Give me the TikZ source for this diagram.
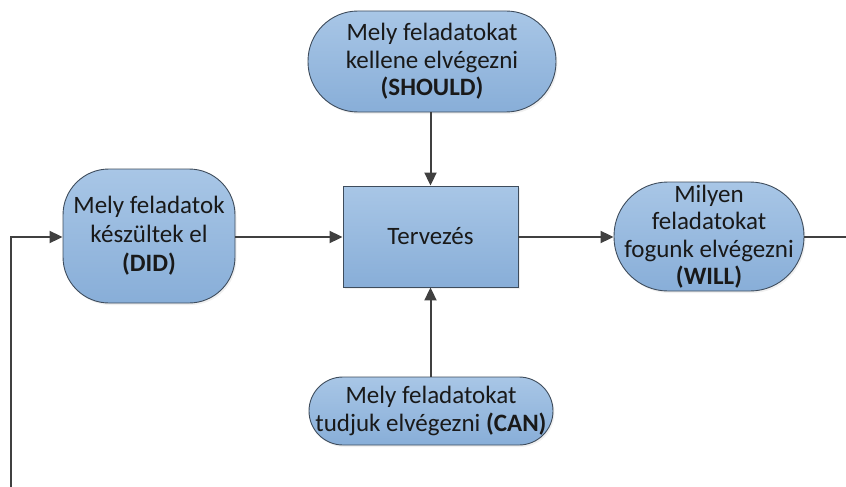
\documentclass[tikz,border=0pt]{standalone}
\usepackage{fontspec}
\setmainfont{Carlito}
\usetikzlibrary{arrows.meta,shadows}
\definecolor{boxtop}{RGB}{168,198,230}
\definecolor{boxbot}{RGB}{136,174,216}
\definecolor{boxline}{RGB}{62,76,92}
\definecolor{arrowcol}{RGB}{64,64,64}
\definecolor{txt}{RGB}{25,25,25}
\tikzset{
  blob/.style={draw=boxline, line width=0.9pt, top color=boxtop, bottom color=boxbot,
    align=center, inner sep=0pt, text=txt,
    font=\fontsize{25}{27.5}\selectfont,
    drop shadow={opacity=0.12, shadow xshift=1.5pt, shadow yshift=-2pt}},
  conn/.style={draw=arrowcol, line width=2pt},
  arr/.style={conn, -{Triangle[length=13pt,width=12pt]}}
}
\begin{document}
\begin{tikzpicture}[x=1pt,y=-1pt]
\useasboundingbox (0,0) rectangle (846,487);
\node[blob, rounded corners=50pt, minimum width=248pt, minimum height=101pt] (should) at (432,61.5)
  {Mely feladatokat\\kellene elvégezni\\\textbf{(SHOULD)}};
\node[blob, minimum width=175pt, minimum height=101pt] (terv) at (430.5,236.5) {Tervezés};
\node[blob, rounded corners=46pt, minimum width=172pt, minimum height=134pt,
  font=\fontsize{25}{29}\selectfont] (did) at (149,236)
  {Mely feladatok\\készültek el\\\textbf{(DID)}};
\node[blob, rounded corners=54pt, minimum width=190pt, minimum height=109pt] (will) at (709,236.5)
  {Milyen\\feladatokat\\fogunk elvégezni\\\textbf{(WILL)}};
\node[blob, rounded corners=34pt, minimum width=244pt, minimum height=68pt] (can) at (431,411)
  {Mely feladatokat\\tudjuk elvégezni \textbf{(CAN)}};
\coordinate (bl) at (11,487);
\coordinate (br) at (846,237);
\draw[arr] (should.south -| terv.north) -- (terv.north);
\draw[arr] (can.north -| terv.south) -- (terv.south);
\draw[arr] (did.east |- br) -- (terv.west |- br);
\draw[arr] (terv.east |- br) -- (will.west |- br);
\draw[conn] (will.east |- br) -- (br);
\draw[arr] (bl) |- (did.west |- br);
\end{tikzpicture}
\end{document}
